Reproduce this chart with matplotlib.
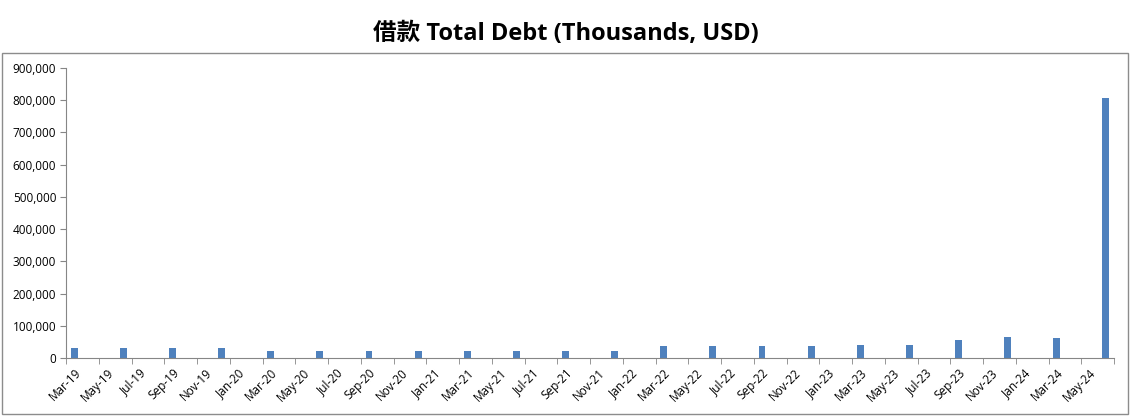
import numpy as np
import matplotlib.pyplot as plt
from matplotlib.patches import Rectangle
from matplotlib.ticker import FuncFormatter

plt.rcParams['font.family'] = ['Open Sans', 'Noto Sans CJK SC', 'DejaVu Sans']

# monthly date axis, Mar-19 .. Jun-24
months = ['Jan', 'Feb', 'Mar', 'Apr', 'May', 'Jun',
          'Jul', 'Aug', 'Sep', 'Oct', 'Nov', 'Dec']
month_labels = []
for i in range(64):
    m = (2 + i) % 12
    y = 19 + (2 + i) // 12
    month_labels.append(f"{months[m]}-{y}")

# quarterly data points
quarters = ['Mar-19', 'Jun-19', 'Sep-19', 'Dec-19',
            'Mar-20', 'Jun-20', 'Sep-20', 'Dec-20',
            'Mar-21', 'Jun-21', 'Sep-21', 'Dec-21',
            'Mar-22', 'Jun-22', 'Sep-22', 'Dec-22',
            'Mar-23', 'Jun-23', 'Sep-23', 'Dec-23',
            'Mar-24', 'Jun-24']
debt = [30000, 30000, 30000, 30000,
        22000, 22000, 22000, 22000,
        22000, 22000, 22000, 22000,
        37000, 37000, 37000, 37000,
        41000, 41000, 56000, 65000,
        62000, 807000]

x_pos = [month_labels.index(q) for q in quarters]

fig = plt.figure(figsize=(11.31, 4.19), dpi=100)

# chart area border
fig.patches.append(Rectangle((0.002, 0.012), 0.995, 0.862, transform=fig.transFigure,
                             fill=False, edgecolor='#8c8c8c', linewidth=1.0))

fig.text(0.5, 0.918, '借款 Total Debt (Thousands, USD)', ha='center', va='center',
         fontsize=17, fontweight='bold', color='black')

ax = fig.add_axes([0.0584, 0.1456, 0.9266, 0.6921])
ax.bar(x_pos, debt, width=0.42, color='#4F81BD')

ax.set_xlim(-0.5, 63.5)
ax.set_ylim(0, 900000)
ax.set_yticks(np.arange(0, 900001, 100000))
ax.yaxis.set_major_formatter(FuncFormatter(lambda v, p: f"{int(v):,}"))

# labels every 2 months, tick marks at boundaries
ax.set_xticks(range(0, 64, 2))
ax.set_xticklabels(month_labels[0:64:2], rotation=45, ha='right',
                   rotation_mode='anchor', fontsize=8.5)
ax.tick_params(axis='x', length=0, pad=6)
ax.set_xticks(np.arange(-0.5, 64, 2), minor=True)
ax.tick_params(axis='x', which='minor', length=4, color='#868686')
ax.tick_params(axis='y', length=4, color='#868686', labelsize=8.5, pad=3)

for s in ['top', 'right']:
    ax.spines[s].set_visible(False)
for s in ['left', 'bottom']:
    ax.spines[s].set_color('#868686')

fig.savefig('out.png', dpi=100)
